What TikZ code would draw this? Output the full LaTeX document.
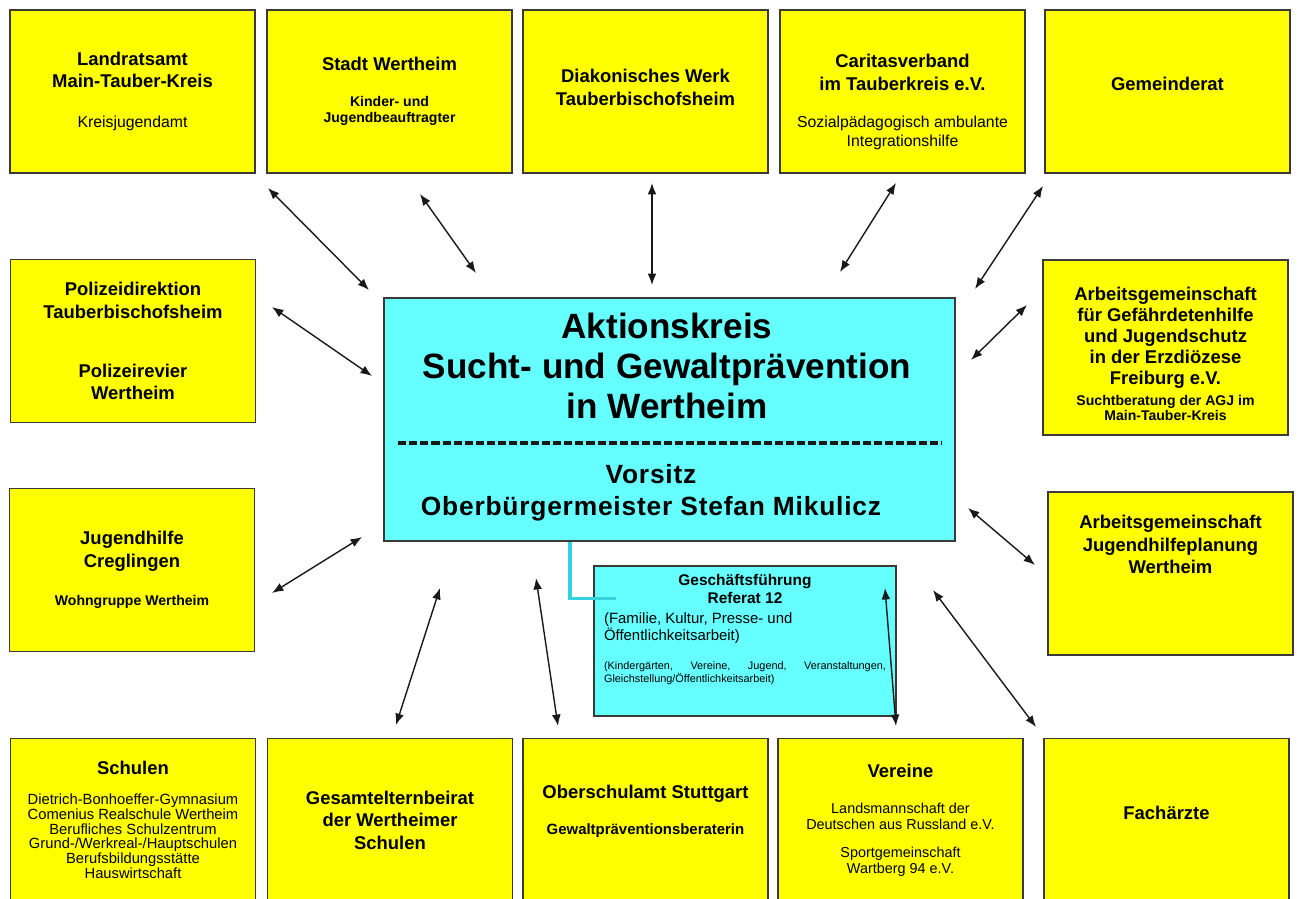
\documentclass[tikz,border=0pt]{standalone}
\usepackage{fontspec}
\setmainfont{Liberation Sans}
\usetikzlibrary{arrows.meta,calc}

\definecolor{gelb}{HTML}{FFFF00}
\definecolor{tuerkis}{HTML}{66FFFF}
\definecolor{linie}{HTML}{33D2DE}
\definecolor{rahmen}{HTML}{3A3A3A}

\newcommand{\kopf}{\fontsize{10.5}{12.8}\selectfont\bfseries}
\newcommand{\zeile}{\fontsize{9}{10.8}\selectfont\mdseries}
\newcommand{\zeilefett}{\fontsize{8}{9.1}\selectfont\bfseries}
\newcommand{\oben}[1]{\hrule height0pt\vspace*{#1}}
\newcommand{\unten}[1]{\par\vspace*{#1}\hrule height0pt}

\begin{document}
\begin{tikzpicture}[x=0.02cm, y=-0.02cm,
        kasten/.style={draw=rahmen, fill=gelb, line width=0.9pt, inner sep=0pt,
            minimum width=4.9cm, minimum height=3.26cm, text width=4.7cm,
            align=flush center, font=\kopf},
        zkasten/.style={draw=rahmen, fill=tuerkis, line width=0.9pt,
            minimum width=11.42cm, minimum height=4.86cm},
        gfkasten/.style={draw=rahmen, fill=tuerkis, line width=0.9pt, inner sep=0pt,
            minimum width=6.04cm, minimum height=3cm, text width=5.64cm, align=justify},
        pfeil/.style={<->, >={Latex[length=6.5pt,width=5pt]}, line width=0.8pt, draw=black!90},
        verbindung/.style={draw=linie, line width=1.9pt},
        trenner/.style={draw=black!90, line width=2.6pt, dash pattern=on 4.6pt off 1.7pt}]
        \useasboundingbox (0,0) rectangle (1299,899);
        % obere Reihe
        \draw
            (132.5,91.5) node[kasten] (land) {Landratsamt\\Main-Tauber-Kreis\par
                \vspace{12pt}{\zeile Kreisjugendamt\par}}
            (389.5,91.5) node[kasten] (stadt) {Stadt Wertheim\par
                \vspace{11.4pt}{\zeilefett Kinder- und\\Jugendbeauftragter\par}}
            (645.5,91.5) node[kasten] (diakonie) {Diakonisches Werk\\Tauberbischofsheim\unten{4.5pt}}
            (902.5,91.5) node[kasten] (caritas) {\oben{12pt}Caritasverband\\im Tauberkreis e.V.\par
                \vspace{10.5pt}{\zeile Sozialpädagogisch ambulante\\Integrationshilfe\par}}
            (1167.5,91.5) node[kasten] (gemeinderat) {Gemeinderat\unten{9pt}};
        % linke und rechte Spalte
        \draw
            (133,341) node[kasten] (polizei) {Polizeidirektion\\Tauberbischofsheim\par
                \vspace{20.8pt}Polizeirevier\\Wertheim}
            (132,570) node[kasten] (jugendhilfe) {Jugendhilfe\\Creglingen\par
                \vspace{12.5pt}{\zeilefett Wohngruppe Wertheim\par}}
            (1165.5,347.5) node[kasten, minimum height=3.5cm, font=\fontsize{10.5}{12}\selectfont\bfseries] (agj)
                {\oben{7pt}Arbeitsgemeinschaft\\für Gefährdetenhilfe\\und Jugendschutz\\in der Erzdiözese\\Freiburg e.V.\par
                \vspace{3pt}{\fontsize{8}{8.5}\selectfont Suchtberatung der AGJ im\\Main-Tauber-Kreis\par}}
            (1170.5,573.5) node[kasten] (planung) {Arbeitsgemeinschaft\\Jugendhilfeplanung\\Wertheim\unten{33pt}};
        % untere Reihe
        \draw
            (133,820) node[kasten] (schulen) {Schulen\par
                \vspace{8.6pt}{\fontsize{8.4}{8.4}\selectfont\mdseries Dietrich-Bonhoeffer-Gymnasium\\
                Comenius Realschule Wertheim\\Berufliches Schulzentrum\\Grund-/Werkreal-/Hauptschulen\\
                Berufsbildungsstätte\\Hauswirtschaft\par}}
            (390,820) node[kasten] (eltern) {Gesamtelternbeirat\\der Wertheimer\\Schulen}
            (645.5,820) node[kasten] (oberschulamt) {Oberschulamt Stuttgart\par
                \vspace{11pt}{\fontsize{8.5}{9.5}\selectfont Gewaltpräventionsberaterin\par}\unten{9.7pt}}
            (900.5,820) node[kasten] (vereine) {Vereine\par
                \vspace{11.4pt}{\fontsize{8.2}{9.1}\selectfont\mdseries Landsmannschaft der\\Deutschen aus Russland e.V.\par
                \vspace{6.9pt}Sportgemeinschaft\\Wartberg 94 e.V.\par}}
            (1166.5,820) node[kasten] (fachaerzte) {Fachärzte\unten{8pt}};
        % Mitte
        \node[zkasten] (zentrum) at (669.5,419.5) {};
        \node[align=center, font=\fontsize{20}{22.8}\selectfont\bfseries] (titel) at (667,366)
            {Aktionskreis\\Sucht- und Gewaltprävention\\in Wertheim};
        \draw[trenner] ($(zentrum.west)+(15,23.5)$) -- ($(zentrum.east)+(-15,23.5)$);
        \node[align=center, font=\fontsize{15}{18.2}\selectfont\bfseries\addfontfeature{LetterSpace=3}] (vorsitz) at (651,493)
            {Vorsitz\\Oberbürgermeister Stefan Mikulicz};
        \node[gfkasten] (gf) at (745,641)
            {{\centering\fontsize{8.8}{10.3}\selectfont\bfseries Geschäftsführung\\Referat 12\par}
            \vspace{1.7pt}{\raggedright\fontsize{8.5}{9.7}\selectfont (Familie, Kultur, Presse- und\\Öffentlichkeitsarbeit)\par}
            \vspace{9pt}{\fontsize{6.2}{7.4}\selectfont (Kindergärten, Vereine, Jugend, Veranstaltungen,\linebreak
            Gleichstellung/Öffentlichkeitsarbeit)\par}\unten{13pt}};
        \draw[verbindung] ($(zentrum.south)+(-99.5,0)$) |- ($(gf.north west)!0.22!(gf.south west)$) -- ++(23,0);
        % Pfeile
        \path
            (268,188) coordinate (landA)    (369,290) coordinate (landB)
            (420,194) coordinate (stadtA)   (476,273) coordinate (stadtB)
            (652,183) coordinate (diakA)    (652,285) coordinate (diakB)
            (896,183) coordinate (caritasA) (840,272) coordinate (caritasB)
            (1043,186) coordinate (gemA)    (975,289) coordinate (gemB)
            (272,307) coordinate (polA)     (372,376) coordinate (polB)
            (272,593) coordinate (jugA)     (362,537) coordinate (jugB)
            (1027,305) coordinate (agjA)    (971,360) coordinate (agjB)
            (1035,565) coordinate (planA)   (968,508) coordinate (planB)
            (1036,727) coordinate (fachA)   (933,590) coordinate (fachB)
            (896,726) coordinate (verA)     (885,588) coordinate (verB)
            (558,726) coordinate (obA)      (536,578) coordinate (obB)
            (396,725) coordinate (elternA)  (440,588) coordinate (elternB);
        \begin{scope}[pfeil]
            \draw (landA) to (landB);
            \draw (stadtA) to (stadtB);
            \draw (diakA) to (diakB);
            \draw (caritasA) to (caritasB);
            \draw (gemA) to (gemB);
            \draw (polA) to (polB);
            \draw (jugA) to (jugB);
            \draw (agjA) to (agjB);
            \draw (planA) to (planB);
            \draw (fachA) to (fachB);
            \draw (verA) to (verB);
            \draw (obA) to (obB);
            \draw (elternA) to (elternB);
        \end{scope}
\end{tikzpicture}
\end{document}
